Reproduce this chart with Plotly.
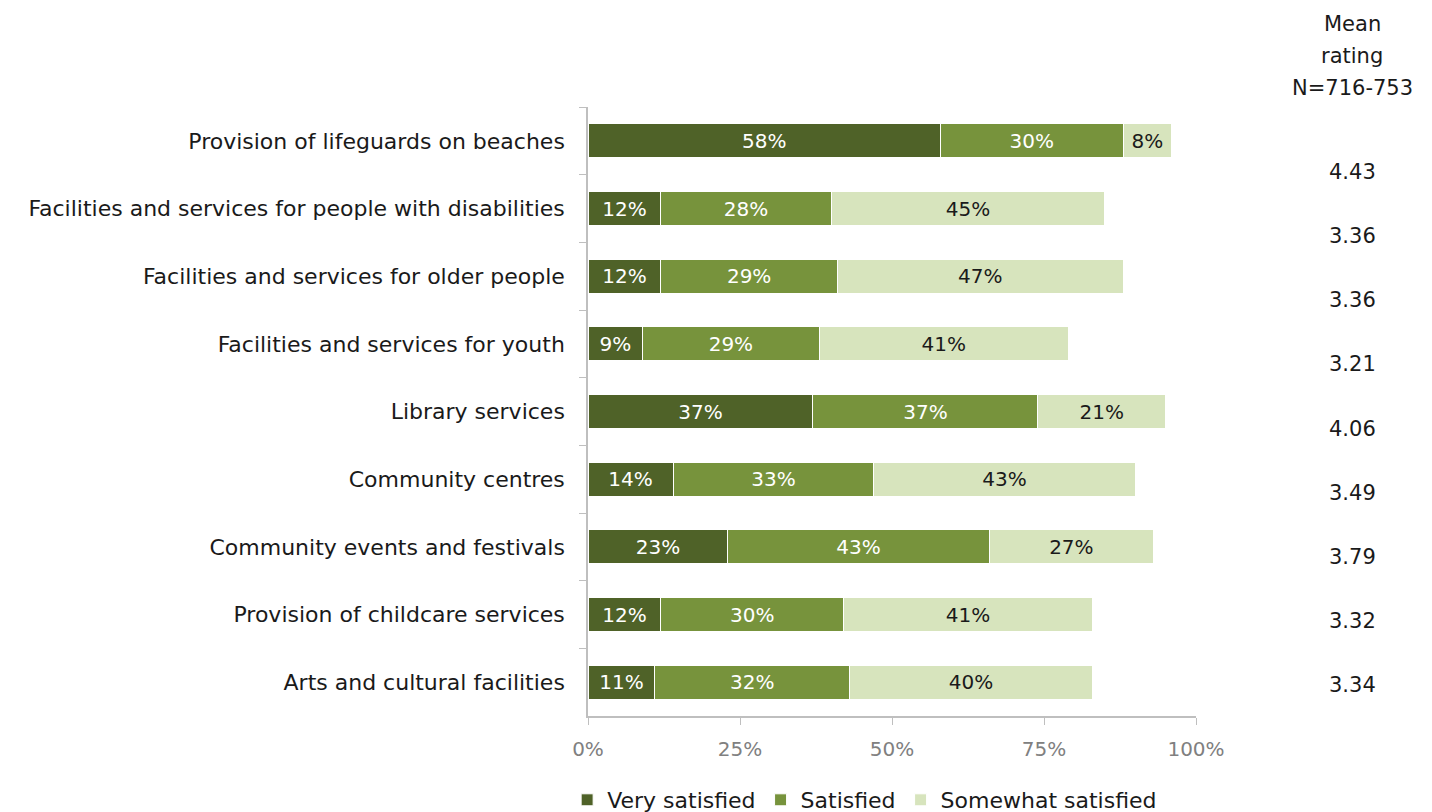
import plotly.graph_objects as go

categories = [
    "Provision of lifeguards on beaches",
    "Facilities and services for people with disabilities",
    "Facilities and services for older people",
    "Facilities and services for youth",
    "Library services",
    "Community centres",
    "Community events and festivals",
    "Provision of childcare services",
    "Arts and cultural facilities",
]
very_satisfied = [58, 12, 12, 9, 37, 14, 23, 12, 11]
satisfied = [30, 28, 29, 29, 37, 33, 43, 30, 32]
somewhat_satisfied = [8, 45, 47, 41, 21, 43, 27, 41, 40]
mean_rating = [4.43, 3.36, 3.36, 3.21, 4.06, 3.49, 3.79, 3.32, 3.34]
mean_header = ["Mean", "rating", "N=716-753"]
x_ticks = [0, 25, 50, 75, 100]
x_tick_labels = ["0%", "25%", "50%", "75%", "100%"]

FONT = "DejaVu Sans"
W, H = 1432, 812
M_L, M_R, M_T, M_B = 588, 236, 107, 96
plot_h = H - M_T - M_B
plot_w = W - M_L - M_R

series = [
    ("Very satisfied", very_satisfied, "#4F6228", "white"),
    ("Satisfied", satisfied, "#77933C", "white"),
    ("Somewhat satisfied", somewhat_satisfied, "#D7E4BD", "#1a1a1a"),
]

fig = go.Figure()
for name, vals, color, txtcol in series:
    fig.add_trace(go.Bar(
        name=name,
        y=categories,
        x=vals,
        orientation="h",
        width=0.5,
        marker=dict(color=color, line=dict(color="white", width=1)),
        text=[f"{v}%" for v in vals],
        textposition="inside",
        insidetextanchor="middle",
        textangle=0,
        textfont=dict(family=FONT, size=20, color=txtcol),
        hoverinfo="skip",
    ))


def paper_y(px):
    return (H - M_B - px) / plot_h


# Mean rating column on the right
col_x = (1352 - M_L) / plot_w
annotations = []
header_y, header_step = 24, 32
for i, line in enumerate(mean_header):
    annotations.append(dict(
        text=line, xref="paper", yref="paper",
        x=col_x, y=paper_y(header_y + i * header_step),
        xanchor="center", yanchor="middle", showarrow=False,
        font=dict(family=FONT, size=21, color="#1a1a1a"),
    ))
first_y, step = 172, (685 - 172) / (len(mean_rating) - 1)
for i, m in enumerate(mean_rating):
    annotations.append(dict(
        text=f"{m:.2f}", xref="paper", yref="paper",
        x=col_x, y=paper_y(first_y + i * step),
        xanchor="center", yanchor="middle", showarrow=False,
        font=dict(family=FONT, size=21, color="#1a1a1a"),
    ))

fig.update_layout(
    width=W, height=H,
    barmode="stack",
    bargap=0.5,
    plot_bgcolor="white",
    paper_bgcolor="white",
    margin=dict(l=M_L, r=M_R, t=M_T, b=M_B, autoexpand=False),
    font=dict(family=FONT, size=20, color="#1a1a1a"),
    annotations=annotations,
    legend=dict(
        orientation="h", x=0.455, xanchor="center",
        yref="container", y=12 / H, yanchor="middle",
        font=dict(family=FONT, size=22, color="#1a1a1a"),
        traceorder="normal",
    ),
    xaxis=dict(
        range=[0, 100],
        tickvals=x_ticks, ticktext=x_tick_labels,
        showgrid=False, zeroline=False,
        showline=True, linecolor="#BFBFBF", linewidth=1.5,
        ticks="outside", ticklen=7, tickcolor="#BFBFBF",
        ticklabelstandoff=7,
        tickfont=dict(family=FONT, size=20, color="#808080"),
    ),
    yaxis=dict(
        categoryorder="array", categoryarray=categories,
        autorange="reversed",
        showgrid=False, zeroline=False,
        showline=True, linecolor="#BFBFBF", linewidth=1.5,
        ticks="outside", ticklen=7, tickcolor="#BFBFBF",
        tickson="boundaries",
        ticklabelstandoff=17,
        tickfont=dict(family=FONT, size=22, color="#1a1a1a"),
    ),
)

fig.write_html("out.html")
